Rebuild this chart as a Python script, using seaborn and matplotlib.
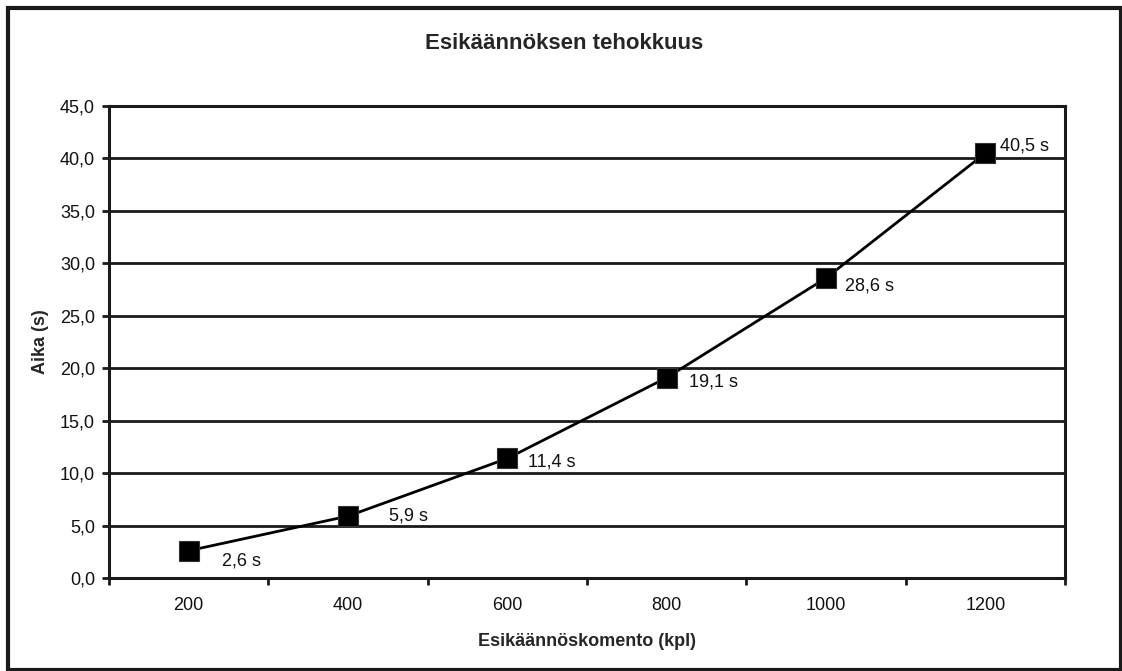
import matplotlib.pyplot as plt
import matplotlib.ticker as mticker
import pandas as pd
import seaborn as sns
from matplotlib.patches import Rectangle

# data
kpl = ["200", "400", "600", "800", "1000", "1200"]
aika = [2.6, 5.9, 11.4, 19.1, 28.6, 40.5]
labels = ["2,6 s", "5,9 s", "11,4 s", "19,1 s", "28,6 s", "40,5 s"]

# label offsets in pixels (dx, dy), tuned by eye
offsets = [(33, -10), (41, 0), (21, -4), (22, -4), (19, -8), (15, 7)]

df = pd.DataFrame({"kpl": kpl, "aika": aika})

sns.set_theme(style="white")
plt.rcParams["font.family"] = ["Liberation Sans", "DejaVu Sans"]

fig = plt.figure(figsize=(11.22, 6.71), dpi=100)
ax = fig.add_axes([109 / 1122, 1 - 578 / 671, (1065 - 109) / 1122, (578 - 106) / 671])

sns.lineplot(
    data=df,
    x="kpl",
    y="aika",
    ax=ax,
    color="black",
    linewidth=2,
    marker="s",
    markersize=14,
    markeredgecolor="#333333",
    markeredgewidth=0.8,
    zorder=5,
)

for i, (lab, (dx, dy)) in enumerate(zip(labels, offsets)):
    ax.annotate(lab, (i, aika[i]), xytext=(dx, dy), textcoords="offset pixels",
                ha="left", va="center", fontsize=13, color="#111111", zorder=6)

ax.set_xlim(-0.5, len(kpl) - 0.5)
ax.set_ylim(0, 45)

# y axis
ax.yaxis.set_major_locator(mticker.MultipleLocator(5))
ax.yaxis.set_major_formatter(mticker.FuncFormatter(lambda v, _: f"{v:.1f}".replace(".", ",")))
ax.grid(axis="y", color="#1a1a1a", linewidth=2)
ax.grid(axis="x", visible=False)
ax.set_axisbelow(True)

# x axis: labels at category centres, tick marks at boundaries
ax.set_xticks(range(len(kpl)))
ax.set_xticklabels(kpl)
ax.xaxis.set_minor_locator(mticker.FixedLocator([i - 0.5 for i in range(len(kpl) + 1)]))
ax.tick_params(axis="x", which="major", length=0, pad=14, labelsize=13, colors="#111111")
ax.tick_params(axis="x", which="minor", length=5, width=2, direction="out", color="#1a1a1a", bottom=True)
ax.tick_params(axis="y", which="major", length=5, width=2, direction="out", color="#1a1a1a",
               left=True, pad=5, labelsize=13, labelcolor="#111111")

for side in ["left", "bottom", "right", "top"]:
    ax.spines[side].set_visible(True)
    ax.spines[side].set_color("#1a1a1a")
    ax.spines[side].set_linewidth(2.2)

ax.set_xlabel("Esikäännöskomento (kpl)", fontsize=13, fontweight="bold", labelpad=13)
ax.set_ylabel("Aika (s)", fontsize=13, fontweight="bold", labelpad=8)
fig.suptitle("Esikäännöksen tehokkuus", x=0.503, y=0.951, fontsize=16, fontweight="bold")

# outer frame
fig.patches.append(Rectangle((8 / 1122, 1 / 671), 1 - 9 / 1122, 1 - 9 / 671, transform=fig.transFigure,
                             fill=False, edgecolor="#1a1a1a", linewidth=3))

fig.savefig("out.png", dpi=100, facecolor="white")
